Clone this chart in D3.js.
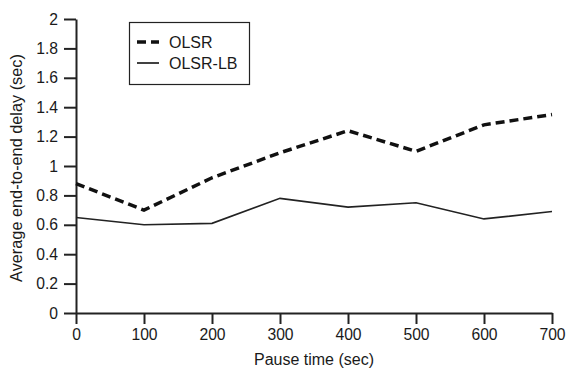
<!DOCTYPE html>
<html lang="en">
<head>
<meta charset="UTF-8">
<title>Average end-to-end delay</title>
<script src="https://d3js.org/d3.v7.min.js"></script>
<style>
  body { margin: 0; background: #fff; }
  text { font-family: "Liberation Sans", Arial, sans-serif; fill: #1a1a1a; }
</style>
</head>
<body>
<svg id="chart" width="567" height="371"></svg>
<script>
// data
const pauseTimes = [0, 100, 200, 300, 400, 500, 600, 700];
const olsr = [0.88, 0.70, 0.92, 1.09, 1.24, 1.10, 1.28, 1.35];
const olsrLb = [0.65, 0.60, 0.61, 0.78, 0.72, 0.75, 0.64, 0.69];
const yTicks = [0, 0.2, 0.4, 0.6, 0.8, 1, 1.2, 1.4, 1.6, 1.8, 2];

const svg = d3.select("#chart");
const margin = { top: 19, left: 76, right: 15, bottom: 58 };

const x = d3.scaleLinear().domain([0, 700]).range([margin.left, 552]);
const y = d3.scaleLinear().domain([0, 2]).range([313, margin.top]);

// axes
const xAxis = svg.append("g")
    .attr("transform", "translate(0,313)")
    .call(d3.axisBottom(x).tickValues(pauseTimes).tickSize(11).tickPadding(5).tickSizeOuter(0));
const yAxis = svg.append("g")
    .attr("transform", "translate(" + margin.left + ",0)")
    .call(d3.axisLeft(y).tickValues(yTicks).tickFormat(d3.format("~g")).tickSize(12).tickPadding(6).tickSizeOuter(0));

[xAxis, yAxis].forEach(g => {
    g.selectAll("path, line").attr("stroke", "#222").attr("stroke-width", 2);
    g.selectAll("text").style("font-size", "15.7px");
});

// lines
const line = d3.line().x((d, i) => x(pauseTimes[i])).y(d => y(d));

svg.append("path").datum(olsr)
    .attr("d", line)
    .attr("fill", "none")
    .attr("stroke", "#111")
    .attr("stroke-width", 3.5)
    .attr("stroke-dasharray", "9,5");

svg.append("path").datum(olsrLb)
    .attr("d", line)
    .attr("fill", "none")
    .attr("stroke", "#222")
    .attr("stroke-width", 1.6);

// axis titles
svg.append("text")
    .attr("x", (margin.left + 552) / 2)
    .attr("y", 365)
    .attr("text-anchor", "middle")
    .style("font-size", "16px")
    .text("Pause time (sec)");

svg.append("text")
    .attr("transform", "translate(22,168) rotate(-90)")
    .attr("text-anchor", "middle")
    .style("font-size", "16.3px")
    .text("Average end-to-end delay (sec)");

// legend
const legend = svg.append("g");
legend.append("rect")
    .attr("x", 129.5).attr("y", 22.5)
    .attr("width", 120).attr("height", 62)
    .attr("fill", "#fff").attr("stroke", "#222").attr("stroke-width", 1.2);

const entries = [
    { name: "OLSR", width: 3.5, dash: "9,5", yPos: 42 },
    { name: "OLSR-LB", width: 1.6, dash: null, yPos: 63 }
];
entries.forEach(e => {
    legend.append("line")
        .attr("x1", 137).attr("x2", 159)
        .attr("y1", e.yPos).attr("y2", e.yPos)
        .attr("stroke", "#111")
        .attr("stroke-width", e.width)
        .attr("stroke-dasharray", e.dash);
    legend.append("text")
        .attr("x", 169).attr("y", e.yPos)
        .attr("dy", "0.35em")
        .style("font-size", "16px")
        .text(e.name);
});
</script>
</body>
</html>
